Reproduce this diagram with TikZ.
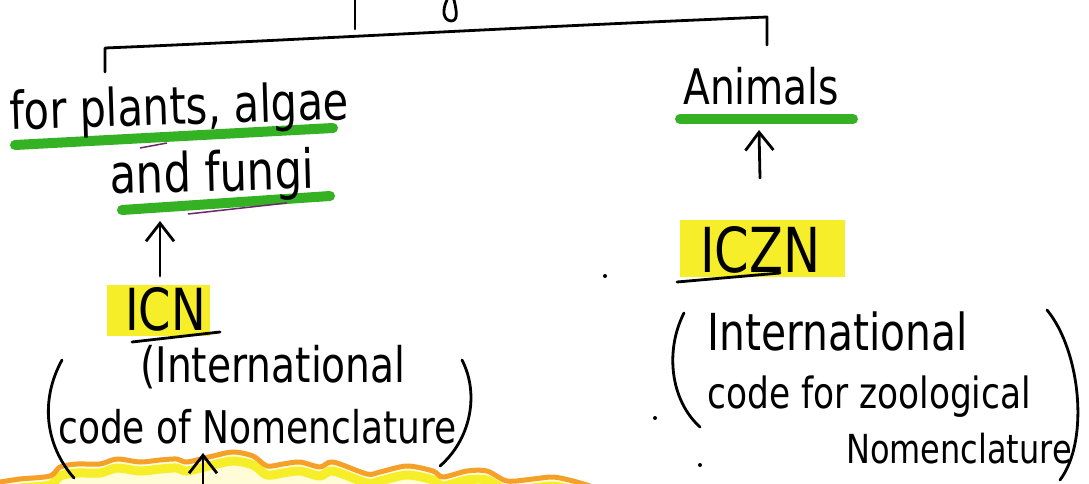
\documentclass[tikz,border=0pt]{standalone}
\usepackage{fontspec}
\setmainfont[FakeStretch=0.8]{DejaVu Sans}
\usetikzlibrary{arrows.meta}
\definecolor{hlgreen}{RGB}{52,178,36}
\definecolor{hlyellow}{RGB}{246,238,40}
\definecolor{hlorange}{RGB}{245,160,40}
\definecolor{paleyellow}{RGB}{255,252,215}
\definecolor{penpurple}{RGB}{110,40,110}
\tikzset{
  hw/.style={anchor=base west, inner sep=0pt, text=black},
  pen/.style={line width=2.8pt, line cap=round, line join=round, black},
  greenline/.style={line width=10pt, line cap=round, hlgreen},
  arr/.style={pen, -{Straight Barb[length=18pt,width=28pt]}},
  dot/.style={circle, fill=black, inner sep=0pt, minimum size=4pt},
}
\newcommand{\fs}[1]{\fontsize{#1}{#1}\selectfont}
\newcommand{\wave}{(0,482) (20,479) (50,476) (60,467) (77,464) (100,464) (117,459) (140,462) (160,460) (177,459) (187,462) (213,456) (233,452) (253,456) (267,466) (283,464) (300,462) (320,467) (333,462) (367,474) (380,472) (407,466) (433,471) (443,477) (467,471) (487,471) (507,481) (533,479) (553,477) (573,481) (590,486)}
\newcommand{\wavelow}{(0,491) (20,488) (50,485) (60,476) (77,473) (100,473) (117,468) (140,471) (160,469) (177,468) (187,471) (213,465) (233,461) (253,465) (267,475) (283,473) (300,471) (320,476) (333,471) (367,483) (380,481) (407,475) (433,480) (443,486) (467,480) (487,480) (507,490) (533,488) (553,486) (573,490) (590,495)}
\begin{document}
\begin{tikzpicture}[x=1pt,y=-1pt]
\useasboundingbox[fill=white] (0,0) rectangle (1089,484);

% bottom wavy highlight
\fill[paleyellow] plot[smooth, tension=0.5] coordinates {\wave} -- (590,490) -- (0,490) -- cycle;
\draw[hlyellow, line width=9pt, line cap=round, line join=round] plot[smooth, tension=0.5] coordinates {\wavelow};
\draw[hlorange, line width=5pt, line cap=round, line join=round] plot[smooth, tension=0.5] coordinates {\wave};

% top fragment and bracket
\draw[pen] (355,0) -- (355,29);
\draw[pen] (447,0) .. controls (442,10) and (443,20) .. (451,21) .. controls (458,21) and (457,12) .. (454,0);
\draw[pen] (105,72) -- (105,48) .. controls (300,40) and (500,28) .. (767,17) -- (767,45);

% highlights
\fill[hlyellow] (107,285) rectangle (210,336);
\fill[hlyellow] (680,220) rectangle (845,277);
\draw[greenline] (15,145) -- (333,128);
\draw[greenline] (122,210) -- (330,196);
\draw[greenline] (680,119) -- (853,119);
\draw[penpurple, line width=1.5pt] (140,148) -- (167,143);
\draw[penpurple, line width=1.5pt] (188,214) -- (287,203);

% left column texts
\node[hw, rotate=1.8] (plants) at (10,130) {\fs{52}for plants, algae};
\node[hw, rotate=1.5] (fungi) at (110,194) {\fs{54}and fungi};
\node[hw] (icn) at (125,330) {\fs{58}ICN};
\draw[pen] (132,342) -- (220,332);
\node[hw] (intl1) at (140,382) {\fs{49}(International};
\node[hw] (code1) at (58,443) {\fs{45}code of Nomenclature};
\draw[pen] (62,360) .. controls (40,400) and (45,445) .. (74,478);
\draw[pen] (462,360) .. controls (480,395) and (470,440) .. (440,466);

% right column texts
\node[hw] (animals) at (683,105) {\fs{49}Animals};
\node[hw] (iczn) at (700,272) {\fs{62}ICZN};
\draw[pen] (677,282) -- (780,273);
\node[hw] (intl2) at (707,350) {\fs{51}International};
\node[hw] (code2) at (707,408) {\fs{43}code for zoological};
\node[hw] (nomen2) at (846,463) {\fs{40}Nomenclature};
\draw[pen] (684,313) .. controls (665,350) and (670,400) .. (700,427);
\draw[pen] (1047,310) .. controls (1080,350) and (1090,440) .. (1060,480);

% arrows
\coordinate (a1s) at (160,276);
\coordinate (a1e) at (160,221);
\draw[arr] (a1s) -- (a1e);
\coordinate (a2s) at (760,178);
\coordinate (a2e) at (759,130);
\draw[arr] (a2s) -- (a2e);
\coordinate (a3s) at (203,488);
\coordinate (a3e) at (203,453);
\draw[arr] (a3s) -- (a3e);

% stray dots
\node[dot] (d1) at (605,276) {};
\node[dot] (d2) at (655,418) {};
\node[dot] (d3) at (700,465) {};
\end{tikzpicture}
\end{document}
